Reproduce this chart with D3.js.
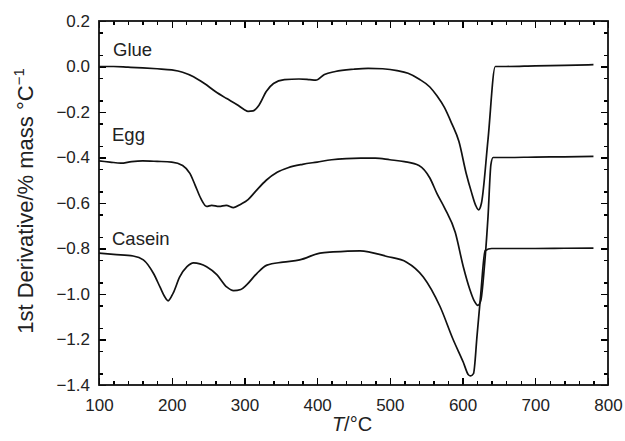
<!DOCTYPE html>
<html>
<head>
<meta charset="utf-8">
<script src="https://cdn.jsdelivr.net/npm/d3@7"></script>
<style>
  html, body { margin: 0; padding: 0; background: #fff; }
  svg { display: block; font-family: "Liberation Sans", Arial, Helvetica, sans-serif; }
</style>
</head>
<body>
<svg id="chart" width="625" height="441"></svg>
<script>
// ---- data ----
const glueT = [100,120,140,160,180,200,215,230,245,260,275,290,300,305,312,320,330,340,355,375,390,398,410,425,450,470,490,510,525,540,555,565,575,585,595,605,612,618,622,626,635,645,660,700,740,780];
const glueV = [0.0,0.0,-0.003,-0.006,-0.01,-0.015,-0.025,-0.045,-0.075,-0.11,-0.14,-0.168,-0.19,-0.197,-0.195,-0.17,-0.11,-0.075,-0.058,-0.055,-0.058,-0.06,-0.035,-0.022,-0.012,-0.008,-0.01,-0.018,-0.03,-0.055,-0.09,-0.13,-0.18,-0.25,-0.33,-0.47,-0.55,-0.61,-0.63,-0.60,-0.32,0.0,0.0,0.003,0.005,0.008];

const eggT = [100,115,130,145,160,180,200,215,225,232,240,248,255,265,275,285,295,305,315,330,345,360,380,400,420,440,460,480,500,520,540,555,565,575,590,601,610,616,621,625,630,635,639,642,660,700,740,780];
const eggV = [-0.415,-0.42,-0.425,-0.418,-0.415,-0.417,-0.42,-0.435,-0.47,-0.52,-0.58,-0.615,-0.61,-0.615,-0.61,-0.62,-0.605,-0.585,-0.55,-0.5,-0.465,-0.445,-0.43,-0.42,-0.41,-0.405,-0.403,-0.403,-0.41,-0.418,-0.435,-0.49,-0.56,-0.62,-0.73,-0.88,-0.98,-1.03,-1.05,-1.03,-0.88,-0.66,-0.43,-0.40,-0.40,-0.398,-0.397,-0.395];

const caseinT = [100,120,147,161,175,184,190,195,202,211,221,230,248,262,276,285,295,303,317,331,353,376,404,422,459,496,523,546,569,587,601,608,611,615,620,625,631,640,700,740,780];
const caseinV = [-0.82,-0.826,-0.833,-0.85,-0.91,-0.97,-1.01,-1.03,-0.996,-0.925,-0.88,-0.863,-0.88,-0.915,-0.97,-0.985,-0.98,-0.96,-0.91,-0.873,-0.86,-0.85,-0.82,-0.815,-0.81,-0.835,-0.86,-0.925,-1.055,-1.20,-1.30,-1.355,-1.36,-1.35,-1.18,-1.0,-0.81,-0.80,-0.80,-0.799,-0.798];

const seriesNames = ["Glue", "Egg", "Casein"];
const xTicks = [100,200,300,400,500,600,700,800];
const yTicks = [0.2,0.0,-0.2,-0.4,-0.6,-0.8,-1.0,-1.2,-1.4];

// ---- layout ----
const svg = d3.select("#chart");
const L = 99, R = 608, T = 21, B = 385;
const x = d3.scaleLinear().domain([100, 800]).range([L, R]);
const y = d3.scaleLinear().domain([-1.4, 0.2]).range([B, T]);

const fmtY = d3.format(".1f");
const blank = () => "";
const xMinor = d3.range(120, 800, 20).filter(v => v % 100 !== 0);
const yMinor = d3.range(-27, 4, 2).map(k => k * 0.05);

function styleAxis(g) {
  g.select(".domain").remove();
  g.selectAll(".tick line").attr("stroke", "#000").attr("stroke-width", 1.4)
    .attr("shape-rendering", "crispEdges");
}

// bottom
const gb = svg.append("g").attr("transform", `translate(0,${B})`)
  .call(d3.axisBottom(x).tickValues(xTicks).tickSize(-7).tickPadding(14).tickFormat(d3.format("d")));
styleAxis(gb);
gb.selectAll("text").attr("font-size", 17).attr("fill", "#222");
svg.append("g").attr("transform", `translate(0,${B})`)
  .call(d3.axisBottom(x).tickValues(xMinor).tickSize(-4).tickFormat(blank))
  .call(styleAxis);

// top
svg.append("g").attr("transform", `translate(0,${T})`)
  .call(d3.axisTop(x).tickValues(xTicks).tickSize(-7).tickFormat(blank))
  .call(styleAxis);
svg.append("g").attr("transform", `translate(0,${T})`)
  .call(d3.axisTop(x).tickValues(xMinor).tickSize(-4).tickFormat(blank))
  .call(styleAxis);

// left
const gl = svg.append("g").attr("transform", `translate(${L},0)`)
  .call(d3.axisLeft(y).tickValues(yTicks).tickSize(-7).tickPadding(9).tickFormat(fmtY));
styleAxis(gl);
gl.selectAll("text").attr("font-size", 17).attr("fill", "#222");
svg.append("g").attr("transform", `translate(${L},0)`)
  .call(d3.axisLeft(y).tickValues(yMinor).tickSize(-4).tickFormat(blank))
  .call(styleAxis);

// right
svg.append("g").attr("transform", `translate(${R},0)`)
  .call(d3.axisRight(y).tickValues(yTicks).tickSize(-7).tickFormat(blank))
  .call(styleAxis);
svg.append("g").attr("transform", `translate(${R},0)`)
  .call(d3.axisRight(y).tickValues(yMinor).tickSize(-4).tickFormat(blank))
  .call(styleAxis);

// frame
svg.append("rect").attr("x", L).attr("y", T).attr("width", R - L).attr("height", B - T)
  .attr("fill", "none").attr("stroke", "#111").attr("stroke-width", 1.8);

// curves
const line = d3.line().x(d => x(d[0])).y(d => y(d[1])).curve(d3.curveMonotoneX);
const series = [
  [glueT, glueV],
  [eggT, eggV],
  [caseinT, caseinV]
];
series.forEach(([ts, vs]) => {
  svg.append("path")
    .datum(ts.map((t, i) => [t, vs[i]]))
    .attr("d", line)
    .attr("fill", "none")
    .attr("stroke", "#111")
    .attr("stroke-width", 1.7)
    .attr("stroke-linejoin", "round");
});

// series labels
const labelPos = [[113, 56], [112, 141], [112, 245]];
seriesNames.forEach((n, i) => {
  svg.append("text").attr("x", labelPos[i][0]).attr("y", labelPos[i][1])
    .attr("font-size", 18.5).attr("fill", "#222").text(n);
});

// x title
const xt = svg.append("text").attr("x", 352).attr("y", 431).attr("text-anchor", "middle")
  .attr("font-size", 20).attr("fill", "#222");
xt.append("tspan").attr("font-style", "italic").text("T");
xt.append("tspan").text("/°C");

// y title
const yt = svg.append("text")
  .attr("transform", `translate(33,201) rotate(-90)`)
  .attr("text-anchor", "middle").attr("font-size", 22).attr("fill", "#222");
yt.append("tspan").text("1st Derivative/% mass °C");
yt.append("tspan").attr("font-size", 15).attr("dy", -9).text("−1");
</script>
</body>
</html>
